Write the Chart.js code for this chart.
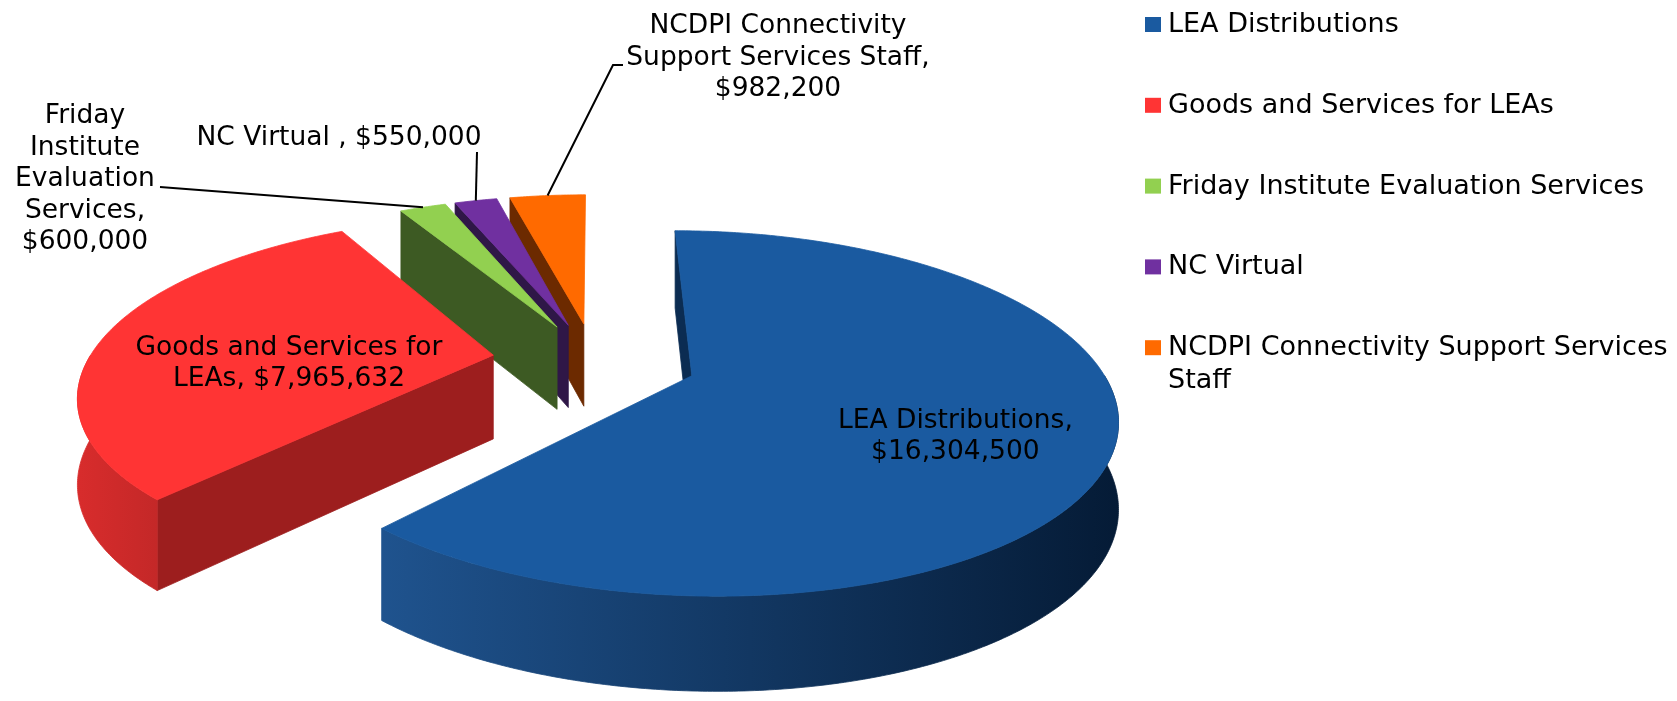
<!DOCTYPE html>
<html>
<head>
<meta charset="utf-8">
<title>Budget split</title>
<script src="https://cdn.jsdelivr.net/npm/chart.js@4.4.1/dist/chart.umd.min.js"></script>
<style>
  html, body { margin: 0; padding: 0; background: #fff; }
  #wrap { width: 1677px; height: 701px; position: relative; }
</style>
</head>
<body>
<div id="wrap"><canvas id="budgetChart"></canvas></div>
<script>
// categories and amounts as shown on the chart
const categories = [
  'LEA Distributions',
  'Goods and Services for LEAs',
  'Friday Institute Evaluation Services',
  'NC Virtual',
  'NCDPI Connectivity Support Services Staff',
];
const amounts = [16304500, 7965632, 600000, 550000, 982200];

// wording of the data labels, {v} gets the amount
const labelLines = [
  ['LEA Distributions,', '{v}'],
  ['Goods and Services for', 'LEAs, {v}'],
  ['Friday', 'Institute', 'Evaluation', 'Services,', '{v}'],
  ['NC Virtual , {v}'],
  ['NCDPI Connectivity', 'Support Services Staff,', '{v}'],
];

// colours
const topColors = ['#1A5AA0', '#FF3434', '#92D050', '#7030A0', '#FF6A00'];
const sideColors = ['#0B2C52', '#9D1E1E', '#3D5A23', '#2F1747', '#6C2A00'];
const wallColors = [['#1F538E', '#051B36'], ['#D82C2C', '#C42828'], ['#4A6B2A', '#3D5A23'], ['#3A1C58', '#2F1747'], ['#7A3000', '#6C2A00']];

const labelFont = '26.5px "DejaVu Sans"';
const legendFont = '27px "DejaVu Sans"';
const tilt = 0.416, persp = 0.0005, depth = 84;

function money(v) {
  return '$' + v.toLocaleString('en-US');
}

// fake 3d: squash the pie and push the back away a bit
function project(c, u, v, z) {
  const s = 1 / (1 - persp * v);
  return { x: c.x + u * s, y: c.y + tilt * v * s + z * Math.sqrt(s) };
}

function sliceGeom(arc) {
  const p = arc.getProps(['x', 'y', 'startAngle', 'endAngle', 'outerRadius'], true);
  const off = arc.options.offset || 0;
  const mid = (p.startAngle + p.endAngle) / 2;
  return { c: { x: p.x, y: p.y }, s: p.startAngle, e: p.endAngle, r: p.outerRadius, mid: mid,
    ou: Math.cos(mid) * off, ov: Math.sin(mid) * off };
}

function at(g, a, rr, z) {
  return project(g.c, g.ou + Math.cos(a) * rr, g.ov + Math.sin(a) * rr, z);
}

function arcPts(g, a0, a1, z) {
  const n = Math.max(2, Math.ceil(Math.abs(a1 - a0) / 0.01));
  const pts = [];
  for (let k = 0; k <= n; k++) pts.push(at(g, a0 + (a1 - a0) * k / n, g.r, z));
  return pts;
}

function fillPoly(ctx, pts, style) {
  ctx.beginPath();
  pts.forEach((q, k) => k ? ctx.lineTo(q.x, q.y) : ctx.moveTo(q.x, q.y));
  ctx.closePath();
  ctx.fillStyle = style;
  ctx.strokeStyle = style;
  ctx.lineWidth = 0.8;
  ctx.fill();
  ctx.stroke();
}

const pie3d = {
  id: 'pie3d',
  beforeDatasetsDraw(chart) {
    const ctx = chart.ctx;
    const arcs = chart.getDatasetMeta(0).data;
    const colors = chart.data.datasets[0].backgroundColor;
    const items = arcs.map((a, i) => ({ i: i, g: sliceGeom(a) }));
    // back slices first
    items.sort((A, B) => (A.g.ov + Math.sin(A.g.mid) * A.g.r * 0.5) - (B.g.ov + Math.sin(B.g.mid) * B.g.r * 0.5));
    ctx.save();
    items.forEach(({ i, g }) => {
      const apex = at(g, 0, 0, 0), apexB = at(g, 0, 0, depth);
      // side walls along the cut edges (only the ones turned to us)
      if (Math.cos(g.s) < 1e-6) {
        fillPoly(ctx, [apex, at(g, g.s, g.r, 0), at(g, g.s, g.r, depth), apexB], sideColors[i]);
      }
      if (Math.cos(g.e) > 1e-6) {
        fillPoly(ctx, [apex, at(g, g.e, g.r, 0), at(g, g.e, g.r, depth), apexB], sideColors[i]);
      }
      // rounded outer wall, front half only
      const a0 = Math.max(g.s, 0), a1 = Math.min(g.e, Math.PI);
      if (a1 > a0) {
        const top = arcPts(g, a0, a1, 0);
        const bot = arcPts(g, a0, a1, depth).reverse();
        const xs = top.map(q => q.x);
        const grad = ctx.createLinearGradient(Math.min(...xs), 0, Math.max(...xs), 0);
        grad.addColorStop(0, wallColors[i][0]);
        grad.addColorStop(1, wallColors[i][1]);
        fillPoly(ctx, top.concat(bot), grad);
      }
      fillPoly(ctx, [apex].concat(arcPts(g, g.s, g.e, 0)), colors[i]);
    });
    ctx.restore();
    return false;
  },
  afterDraw(chart) {
    const ctx = chart.ctx;
    const arcs = chart.getDatasetMeta(0).data;
    ctx.save();
    ctx.font = labelFont;
    ctx.fillStyle = '#000';
    ctx.textAlign = 'center';
    ctx.textBaseline = 'alphabetic';

    // labels sitting on the two big slices
    const inside = { 0: 0.64, 1: 0.52 };
    // labels outside with leader lines
    const callouts = {
      2: { x: 85, y: 123, path: [[160, 187]] },
      3: { x: 339, y: 145, path: [[477, 152]] },
      4: { x: 778, y: 33, path: [[623, 65], [613, 65]] },
    };
    const lh = 31.5;

    arcs.forEach((arc, i) => {
      const g = sliceGeom(arc);
      const lines = labelLines[i].map(t => t.replace('{v}', money(amounts[i])));
      if (inside[i] !== undefined) {
        const p = at(g, g.mid, g.r * inside[i], 0);
        lines.forEach((t, k) => ctx.fillText(t, p.x, p.y + 9.5 + k * lh));
      } else {
        const c = callouts[i];
        lines.forEach((t, k) => ctx.fillText(t, c.x, c.y + k * lh));
        const end = at(g, g.mid, g.r, 0);
        ctx.beginPath();
        ctx.moveTo(c.path[0][0], c.path[0][1]);
        c.path.slice(1).forEach(q => ctx.lineTo(q[0], q[1]));
        ctx.lineTo(end.x, end.y);
        ctx.strokeStyle = '#000';
        ctx.lineWidth = 2;
        ctx.stroke();
      }
    });

    // legend on the right
    const legendX = 1168, legendTop = 32, legendStep = 80.8, maxW = 505;
    ctx.font = legendFont;
    ctx.textAlign = 'left';
    chart.data.labels.forEach((name, i) => {
      const base = legendTop + i * legendStep;
      ctx.fillStyle = topColors[i];
      ctx.fillRect(legendX - 23, base - 15, 16, 15);
      ctx.fillStyle = '#000';
      const words = name.split(' ');
      const rows = [];
      let cur = '';
      words.forEach(w => {
        const test = cur ? cur + ' ' + w : w;
        if (cur && ctx.measureText(test).width > maxW) { rows.push(cur); cur = w; } else cur = test;
      });
      rows.push(cur);
      rows.forEach((t, k) => ctx.fillText(t, legendX, base + k * 33));
    });
    ctx.restore();
  },
};

new Chart(document.getElementById('budgetChart'), {
  type: 'pie',
  data: {
    labels: categories,
    datasets: [{
      data: amounts,
      backgroundColor: topColors,
      borderWidth: 0,
      offset: [103, 102, 91, 91, 91],
    }],
  },
  options: {
    responsive: true,
    maintainAspectRatio: false,
    animation: false,
    events: [],
    radius: 405,
    layout: { padding: { left: 0, right: 489, top: 19, bottom: 0 } },
    plugins: {
      legend: { display: false },
      tooltip: { enabled: false },
    },
  },
  plugins: [pie3d],
});
</script>
</body>
</html>
